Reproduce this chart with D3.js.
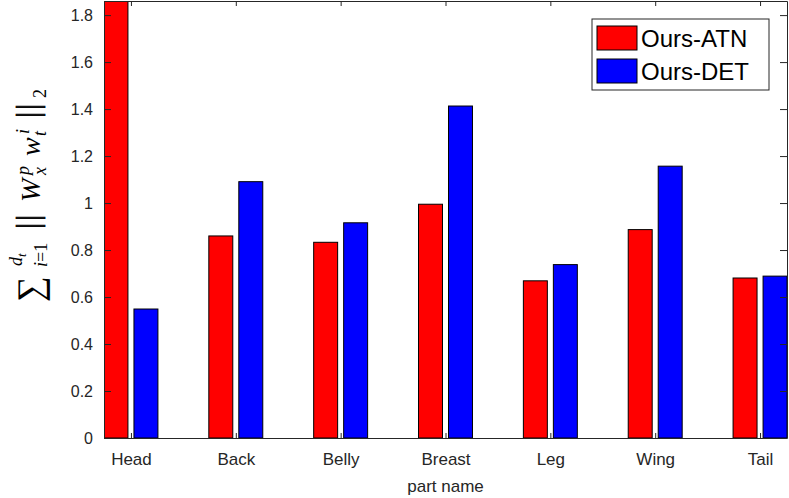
<!DOCTYPE html>
<html>
<head>
<meta charset="utf-8">
<script src="https://cdn.jsdelivr.net/npm/d3@7"></script>
<style>
  body { margin: 0; background: #fff; }
  text { font-family: "Liberation Sans", Arial, sans-serif; }
</style>
</head>
<body>
<div id="chart"></div>
<script>
// Data
const parts = ['Head', 'Back', 'Belly', 'Breast', 'Leg', 'Wing', 'Tail']
const atnValues = [1.9, 0.86, 0.833, 0.995, 0.669, 0.887, 0.681]
const detValues = [0.549, 1.091, 0.916, 1.413, 0.738, 1.157, 0.689]
const seriesNames = ['Ours-ATN', 'Ours-DET']
const seriesColors = ['#ff0000', '#0000ff']
const yTicks = [0, 0.2, 0.4, 0.6, 0.8, 1, 1.2, 1.4, 1.6, 1.8]

// Dimensions
const width = 789, height = 498
const box = { left: 104, right: 787, top: 1, bottom: 438 }
const axisColor = '#262626'

const svg = d3.select('#chart')
  .append('svg')
  .attr('width', width)
  .attr('height', height)

// scales (matlab grouped bars: bar width .2286, offsets +-.143)
const x = d3.scaleLinear().domain([0.743, 7.257]).range([box.left, box.right])
const y = d3.scaleLinear().domain([0, 1.86]).range([box.bottom, box.top])
const barW = 0.2286, off = 0.143

svg.append('clipPath').attr('id', 'plotclip')
  .append('rect')
  .attr('x', box.left).attr('y', box.top)
  .attr('width', box.right - box.left).attr('height', box.bottom - box.top)

const series = [atnValues, detValues]
const bars = svg.append('g').attr('clip-path', 'url(#plotclip)')
series.forEach((vals, s) => {
  bars.append('g')
    .attr('fill', seriesColors[s])
    .attr('stroke', '#000')
    .attr('stroke-width', 1)
    .selectAll('rect')
    .data(vals)
    .join('rect')
    .attr('x', (d, i) => x(i + 1 + (s === 0 ? -off : off) - barW / 2))
    .attr('width', x(barW) - x(0))
    .attr('y', d => y(d))
    .attr('height', d => y(0) - y(d))
})

// axes
const xIdx = parts.map((p, i) => i + 1)
const bottomAxis = d3.axisBottom(x).tickValues(xIdx).tickFormat((d, i) => parts[i]).tickSizeInner(-5).tickSizeOuter(0).tickPadding(15)
const topAxis = d3.axisTop(x).tickValues(xIdx).tickFormat('').tickSizeInner(-5).tickSizeOuter(0)
const leftAxis = d3.axisLeft(y).tickValues(yTicks).tickFormat(d3.format('')).tickSizeInner(-7).tickSizeOuter(0).tickPadding(11)
const rightAxis = d3.axisRight(y).tickValues(yTicks).tickFormat('').tickSizeInner(-7).tickSizeOuter(0)

function styleAxis(g) {
  g.select('.domain').attr('stroke', axisColor)
  g.selectAll('.tick line').attr('stroke', axisColor)
  g.selectAll('.tick text').attr('fill', axisColor).style('font-size', '16px').style('font-family', '"Liberation Sans", Arial, sans-serif')
}

svg.append('g').attr('transform', `translate(0,${box.bottom})`).call(bottomAxis).call(styleAxis)
  .selectAll('.tick text').style('font-size', '17px')
svg.append('g').attr('transform', `translate(0,${box.top})`).call(topAxis).call(styleAxis)
svg.append('g').attr('transform', `translate(${box.left},0)`).call(leftAxis).call(styleAxis)
svg.append('g').attr('transform', `translate(${box.right},0)`).call(rightAxis).call(styleAxis)

// x label
svg.append('text')
  .attr('x', (box.left + box.right) / 2)
  .attr('y', 492)
  .attr('text-anchor', 'middle')
  .attr('fill', axisColor)
  .style('font-size', '17px')
  .text('part name')

// y label: sum_{i=1}^{d_t} ||W_x^p w_t^i||_2
const lab = svg.append('g')
  .attr('transform', 'translate(40,302) rotate(-90)')
  .attr('fill', '#000')
const piece = (t, px, py, size, italic, sw) => lab.append('text')
  .attr('x', px).attr('y', py)
  .attr('stroke', sw ? '#000' : 'none')
  .attr('stroke-width', sw || 0)
  .style('font-family', '"Liberation Serif", "Times New Roman", serif')
  .style('font-size', size + 'px')
  .style('font-style', italic ? 'italic' : 'normal')
  .text(t)
piece('\u2211', 0, 2, 36, false)
piece('i', 35, 7, 18, true)
piece('=1', 40, 7, 18, false)
piece('d', 36, -18, 18, true)
piece('t', 45, -14, 13, true)
piece('|', 73, -2, 31, false, 0.7)
piece('|', 81, -2, 31, false, 0.7)
piece('W', 100, 0, 28, true)
piece('p', 127, -11, 18, true)
piece('x', 127, 6, 18, true)
piece('w', 146, 0, 28, true)
piece('i', 168, -11, 18, true)
piece('t', 166, 6, 18, true)
piece('|', 184, -2, 31, false, 0.7)
piece('|', 192, -2, 31, false, 0.7)
piece('2', 204, 6, 18, false)

// legend
const leg = svg.append('g')
leg.append('rect')
  .attr('x', 592).attr('y', 19).attr('width', 177).attr('height', 71)
  .attr('fill', '#fff').attr('stroke', axisColor)
seriesNames.forEach((name, s) => {
  leg.append('rect')
    .attr('x', 597).attr('y', 26 + s * 33).attr('width', 40).attr('height', 24)
    .attr('fill', seriesColors[s]).attr('stroke', '#000')
  leg.append('text')
    .attr('x', 641).attr('y', 47 + s * 33)
    .attr('fill', '#000')
    .style('font-size', '24px')
    .text(name)
})
</script>
</body>
</html>
